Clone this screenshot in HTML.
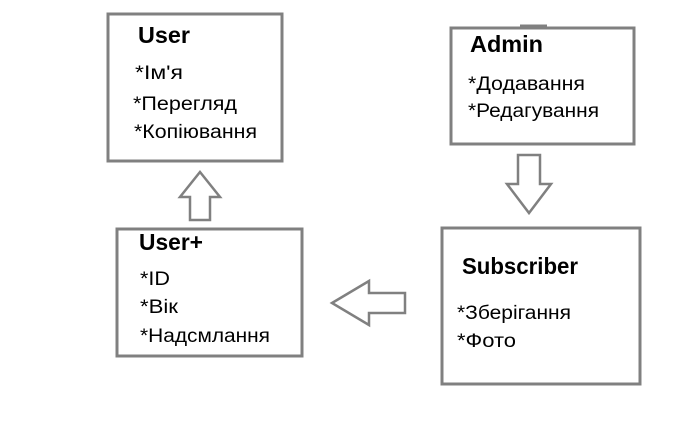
<!DOCTYPE html>
<html><head><meta charset="utf-8"><style>html,body{margin:0;padding:0;background:#fff}svg{display:block}</style></head>
<body>
<svg width="692" height="422" viewBox="0 0 692 422" xmlns="http://www.w3.org/2000/svg" font-family="Liberation Sans, DejaVu Sans, sans-serif">
<g fill="none" stroke="#808080" stroke-width="3">
<rect x="108" y="14" width="174" height="147"/>
<rect x="117" y="229" width="185" height="127"/>
<rect x="451" y="28" width="183" height="116"/>
<rect x="442" y="228" width="198" height="156"/>
<line x1="520" y1="25.5" x2="547" y2="25.5" stroke-width="2"/>
<polygon stroke-width="2.5" points="200,172 220,197 210,197 210,220 190,220 190,197 180,197"/>
<polygon stroke-width="2.5" points="518,155 540,155 540,184 551,184 529,213 507,184 518,184"/>
<polygon stroke-width="2.5" points="332,303 369,281 369,293 405,293 405,313 369,313 369,325"/>
</g>
<g fill="#000" lengthAdjust="spacingAndGlyphs">
<text x="138" y="43" font-size="23" font-weight="bold" textLength="52" lengthAdjust="spacingAndGlyphs">User</text>
<text x="135" y="79" font-size="19" textLength="48" lengthAdjust="spacingAndGlyphs">*Ім'я</text>
<text x="133" y="110" font-size="19" textLength="104" lengthAdjust="spacingAndGlyphs">*Перегляд</text>
<text x="134" y="138" font-size="19" textLength="123" lengthAdjust="spacingAndGlyphs">*Копіювання</text>
<text x="139" y="250" font-size="23" font-weight="bold" textLength="64" lengthAdjust="spacingAndGlyphs">User+</text>
<text x="140" y="285" font-size="19" textLength="30" lengthAdjust="spacingAndGlyphs">*ID</text>
<text x="140" y="313" font-size="19" textLength="38" lengthAdjust="spacingAndGlyphs">*Вік</text>
<text x="140" y="342" font-size="19" textLength="130" lengthAdjust="spacingAndGlyphs">*Надсмлання</text>
<text x="470" y="52" font-size="23" font-weight="bold" textLength="73" lengthAdjust="spacingAndGlyphs">Admin</text>
<text x="468" y="90" font-size="19" textLength="117" lengthAdjust="spacingAndGlyphs">*Додавання</text>
<text x="468" y="117" font-size="19" textLength="131" lengthAdjust="spacingAndGlyphs">*Редагування</text>
<text x="462" y="274" font-size="23" font-weight="bold" textLength="116" lengthAdjust="spacingAndGlyphs">Subscriber</text>
<text x="457" y="319" font-size="19" textLength="114" lengthAdjust="spacingAndGlyphs">*Зберігання</text>
<text x="457" y="347" font-size="19" textLength="59" lengthAdjust="spacingAndGlyphs">*Фото</text>
</g>
</svg>
</body></html>
